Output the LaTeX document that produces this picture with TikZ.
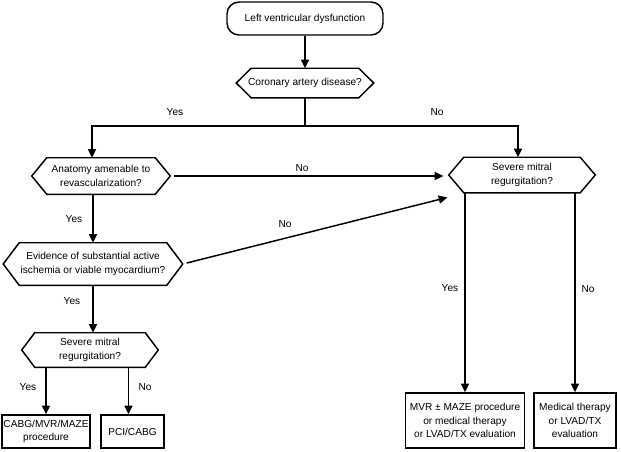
\documentclass[tikz,border=0pt]{standalone}
\usepackage{fontspec}
\newfontfamily\dfont{Liberation Sans}
\newcommand\fsz{\dfont\fontsize{7.6pt}{10pt}\selectfont}
\usetikzlibrary{arrows.meta,calc}
\newcommand\hexdraw[2]{\draw[ln] ([xshift=#2]#1.north west) -- ([xshift=-#2]#1.north east) -- (#1.east) -- ([xshift=-#2]#1.south east) -- ([xshift=#2]#1.south west) -- (#1.west) -- cycle;}
\tikzset{
  lbl/.style={font=\fsz, inner sep=0pt},
  box/.style={draw, line width=1.1pt, font=\fsz, align=center, inner sep=0pt},
  hexn/.style={font=\fsz, align=center, inner sep=0pt},
  arr/.style={line width=1.1pt, -{Triangle[length=6.5pt,width=6pt]}},
  ln/.style={line width=1.1pt}
}
\begin{document}
\begin{tikzpicture}[x=0.75pt,y=-0.75pt]
\useasboundingbox (0,0) rectangle (621,451);
% nodes
\node[box, rounded corners=9pt, minimum width=117pt, minimum height=24.75pt] (top) at (305,18.5) {Left ventricular dysfunction};
\node[hexn, minimum width=102.75pt, minimum height=21.75pt] (cad) at (305,83) {Coronary artery disease?};
\hexdraw{cad}{11.25pt}
\node[hexn, minimum width=103.5pt, minimum height=27pt] (anat) at (101,176) {Anatomy amenable to\\revascularization?};
\hexdraw{anat}{11.25pt}
\node[hexn, minimum width=109.5pt, minimum height=26.25pt] (smR) at (522,175) {Severe mitral\\regurgitation?};
\hexdraw{smR}{11.25pt}
\node[hexn, minimum width=134.25pt, minimum height=31.5pt] (evid) at (93,264) {Evidence of substantial active\\ischemia or viable myocardium?};
\hexdraw{evid}{12pt}
\node[hexn, minimum width=102pt, minimum height=25.5pt] (smL) at (90,350) {Severe mitral\\regurgitation?};
\hexdraw{smL}{9.75pt}
\node[box, minimum width=66pt, minimum height=24.75pt] (cabg) at (46,431.5) {CABG/MVR/MAZE\\procedure};
\node[box, minimum width=47.25pt, minimum height=24.75pt] (pci) at (132.5,431.5) {PCI/CABG};
\node[box, minimum width=89.25pt, minimum height=41.25pt] (mvr) at (465,420.5) {MVR ± MAZE procedure\\or medical therapy\\or LVAD/TX evaluation};
\node[box, minimum width=61.5pt, minimum height=41.25pt] (med) at (575,420.5) {Medical therapy\\or LVAD/TX\\evaluation};
% junctions
\coordinate (j1) at (305,126);
\coordinate (jL) at (92,126);
\coordinate (jR) at (518,126);
% connectors
\draw[arr] (top) -- (cad);
\draw[ln] (cad.south) -- (j1);
\draw[arr] (j1) -- (jL) -- (jL |- anat.north);
\draw[arr] (j1) -- (jR) -- (jR |- smR.north);
\draw[arr, shorten <=3pt, shorten >=4pt] (anat.east) -- (anat.east -| smR.west);
\draw[arr] (evid.north |- anat.south) -- (evid.north);
\draw[arr, shorten <=3pt] (evid.east) -- ([xshift=-1pt,yshift=-3.5pt]smR.south west);
\draw[arr] (evid.south) -- (evid.south |- smL.north);
\draw[arr] (cabg.north |- smL.south) -- (cabg.north);
\draw[arr] ([xshift=-3pt]pci.north |- smL.south) -- ([xshift=-3pt]pci.north);
\draw[arr] (mvr.north |- smR.south) -- (mvr.north);
\draw[arr] (med.north |- smR.south) -- (med.north);
% labels
\node[lbl] (l1) at (175,112) {Yes};
\node[lbl] (l2) at (437,112) {No};
\node[lbl] (l3) at (302,168) {No};
\node[lbl] (l4) at (74,219) {Yes};
\node[lbl] (l5) at (285,224) {No};
\node[lbl] (l6) at (72,301) {Yes};
\node[lbl] (l7) at (28,387) {Yes};
\node[lbl] (l8) at (145,387) {No};
\node[lbl] (l9) at (450,288) {Yes};
\node[lbl] (l10) at (588,289) {No};
\end{tikzpicture}
\end{document}
